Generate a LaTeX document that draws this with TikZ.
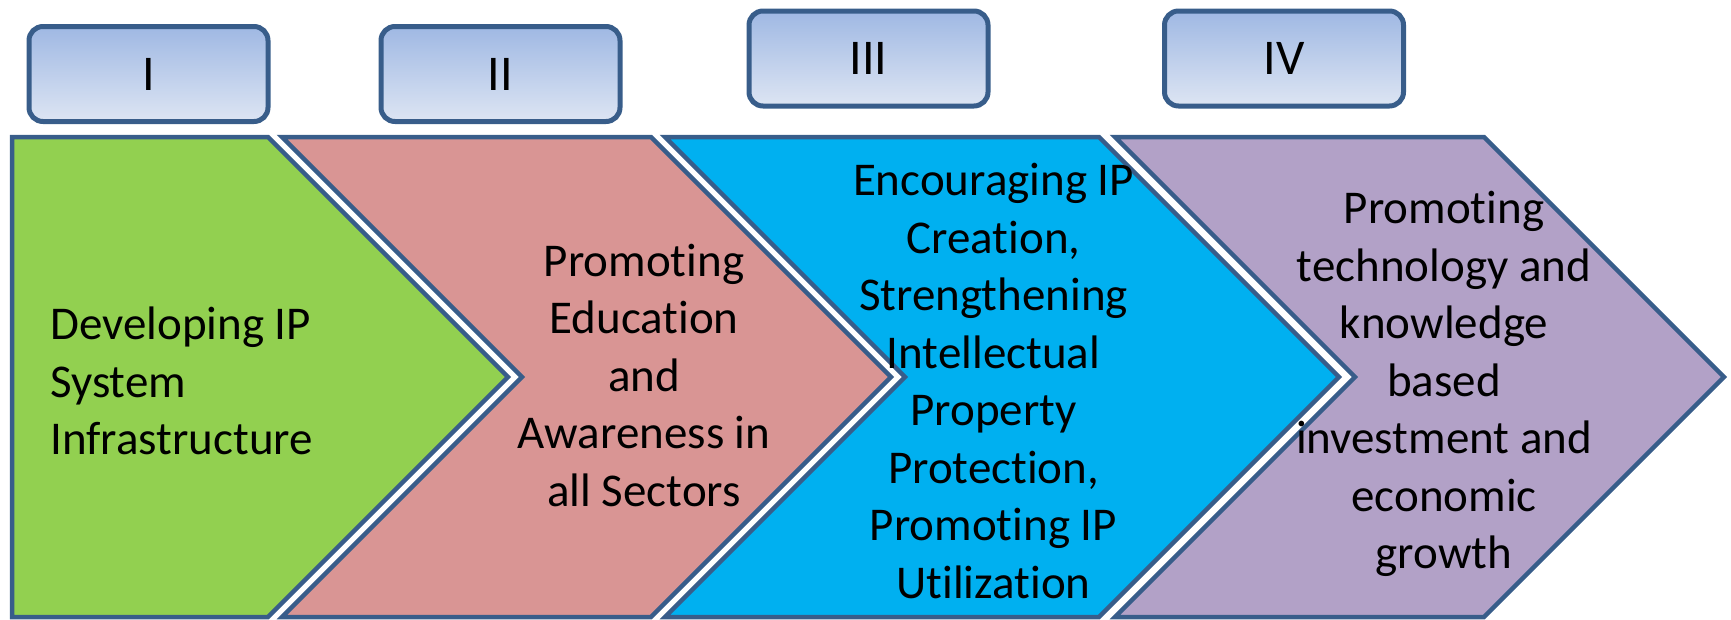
\documentclass[tikz,border=0pt]{standalone}
\usepackage{fontspec}
\setmainfont{Carlito}[Ligatures={NoCommon,NoRare,NoContextual}]
\definecolor{edge}{HTML}{385D8A}
\definecolor{cgreen}{HTML}{92D050}
\definecolor{cpink}{HTML}{D99594}
\definecolor{ccyan}{HTML}{00B0F0}
\definecolor{cpurple}{HTML}{B2A1C7}
\definecolor{btop}{HTML}{9FB8E3}
\definecolor{bbot}{HTML}{DDE5F3}
\tikzset{
  chev/.style={draw=edge, line width=4.5pt, line join=miter},
  numbox/.style={draw=edge, line width=5pt, rounded corners=14pt, top color=btop, bottom color=bbot,
    minimum width=239pt, minimum height=95pt, inner sep=0pt, font=\fontsize{50}{60}\selectfont},
  label/.style={inner sep=0pt, align=center, font=\fontsize{47}{57.5}\selectfont, text=black},
}
\begin{document}
\begin{tikzpicture}[x=1pt,y=-1pt]
\useasboundingbox (0,0) rectangle (1731,619);
% chevrons
\draw[chev, fill=cgreen] (12,137) -- (268,137) -- (508,377) -- (268,617) -- (12,617) -- cycle;
\draw[chev, fill=cpink] (282,137) -- (651,137) -- (891,377) -- (651,617) -- (282,617) -- (522,377) -- cycle;
\draw[chev, fill=ccyan] (665,137) -- (1099,137) -- (1339,377) -- (1099,617) -- (665,617) -- (905,377) -- cycle;
\draw[chev, fill=cpurple] (1115,137) -- (1484,137) -- (1724,377) -- (1484,617) -- (1115,617) -- (1355,377) -- cycle;
% numeral boxes
\node[numbox] (n1) at (148.5,74) {I};
\node[numbox] (n2) at (500.5,74) {II};
\node[numbox] (n3) at (868.5,58.5) {III};
\node[numbox] (n4) at (1284,58.5) {IV};
% texts
\node[label, align=left, anchor=west] (t1) at (50,381) {Developing IP\\System\\Infrastructure};
\node[label] (t2) at (644,375) {Promoting\\Education\\and\\Awareness in\\all Sectors};
\node[label] (t3) at (993.5,381) {Encouraging IP\\Creation,\\Strengthening\\Intellectual\\Property\\Protection,\\Promoting IP\\Utilization};
\node[label] (t4) at (1444,384) {Promoting\\technology and\\knowledge\\based\\investment and\\economic\\growth};
\end{tikzpicture}
\end{document}
